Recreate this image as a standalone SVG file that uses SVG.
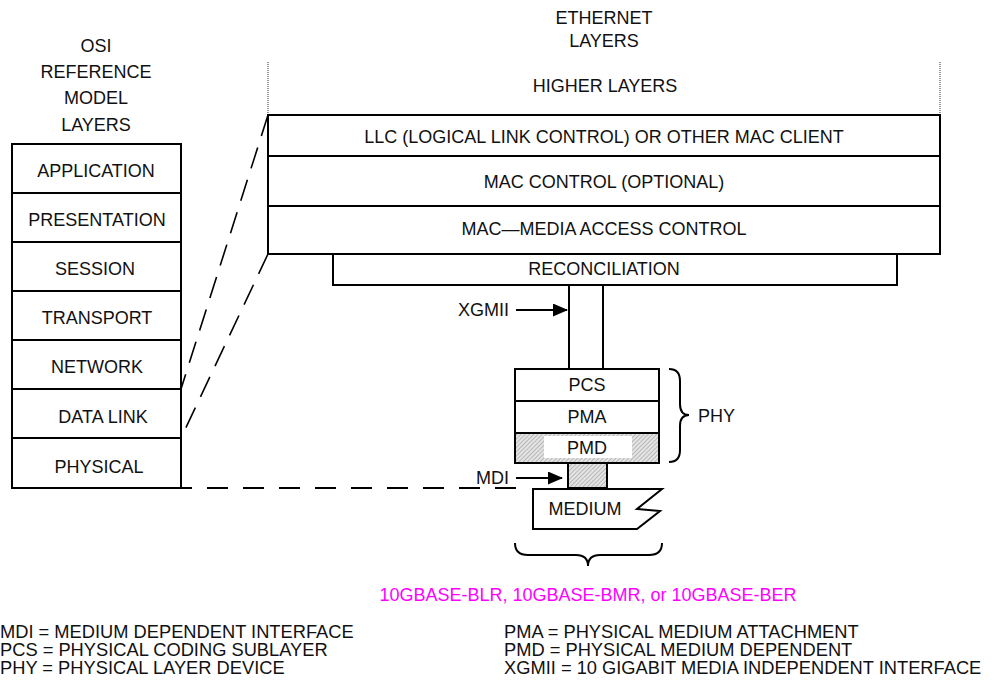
<svg xmlns="http://www.w3.org/2000/svg" width="995" height="683" viewBox="0 0 995 683">
<style>
text{font-family:"Liberation Sans",Arial,sans-serif;font-size:18px;fill:#111;text-anchor:middle}
.leg{font-size:18.3px;text-anchor:start}
.end{text-anchor:end}
.box{fill:#fff;stroke:#000;stroke-width:2}
.ln{fill:none;stroke:#000;stroke-width:2}
.dash{fill:none;stroke:#000;stroke-width:1.6;stroke-dasharray:22 12}
.hdash{fill:none;stroke:#000;stroke-width:2;stroke-dasharray:21 15}
.dot{fill:none;stroke:#777;stroke-width:1.5;stroke-dasharray:1 1}
.hatch{fill:url(#hatch);stroke:#000;stroke-width:2}
</style>
<defs>
<pattern id="hatch" width="3" height="3" patternUnits="userSpaceOnUse" patternTransform="rotate(45)">
<rect width="3" height="3" fill="#e4e4e4"/>
<line x1="0" y1="0" x2="0" y2="3" stroke="#999" stroke-width="1.2"/>
</pattern>
<marker id="arr" markerWidth="15" markerHeight="13" refX="14" refY="6.5" orient="auto" markerUnits="userSpaceOnUse">
<path d="M0,0 L15,6.5 L0,13 Z" fill="#000"/>
</marker>
</defs>

<g id="osi-title">
<text x="96" y="52">OSI</text>
<text x="96" y="78">REFERENCE</text>
<text x="96" y="104">MODEL</text>
<text x="96" y="131">LAYERS</text>
</g>
<g id="osi-application"><rect class="box" x="12" y="144" width="169" height="49"/><text x="96" y="177">APPLICATION</text></g>
<g id="osi-presentation"><rect class="box" x="12" y="193" width="169" height="49"/><text x="97" y="226">PRESENTATION</text></g>
<g id="osi-session"><rect class="box" x="12" y="242" width="169" height="49"/><text x="95" y="275">SESSION</text></g>
<g id="osi-transport"><rect class="box" x="12" y="291" width="169" height="49"/><text x="97" y="324">TRANSPORT</text></g>
<g id="osi-network"><rect class="box" x="12" y="340" width="169" height="49"/><text x="97" y="373">NETWORK</text></g>
<g id="osi-datalink"><rect class="box" x="12" y="389" width="169" height="49"/><text x="103" y="423">DATA LINK</text></g>
<g id="osi-physical"><rect class="box" x="12" y="438" width="169" height="50"/><text x="99" y="473">PHYSICAL</text></g>

<g id="eth-title">
<text x="604" y="24">ETHERNET</text>
<text x="604" y="47">LAYERS</text>
</g>
<g id="higher-layers">
<line class="dot" x1="268" y1="62" x2="268" y2="115"/>
<line class="dot" x1="940" y1="62" x2="940" y2="115"/>
<text x="605" y="92">HIGHER LAYERS</text>
</g>
<g id="llc"><rect class="box" x="268" y="115" width="672" height="41"/><text x="604" y="143">LLC (LOGICAL LINK CONTROL) OR OTHER MAC CLIENT</text></g>
<g id="mac-control"><rect class="box" x="268" y="156" width="672" height="50"/><text x="604" y="188">MAC CONTROL (OPTIONAL)</text></g>
<g id="mac"><rect class="box" x="268" y="206" width="672" height="48"/><text x="604" y="235">MAC—MEDIA ACCESS CONTROL</text></g>
<g id="reconciliation"><rect class="box" x="333" y="254" width="564" height="31"/><text x="604" y="275">RECONCILIATION</text></g>

<g id="xgmii">
<line class="ln" x1="569" y1="285" x2="569" y2="369"/>
<line class="ln" x1="603" y1="285" x2="603" y2="369"/>
<text class="end" x="509" y="316">XGMII</text>
</g>

<g id="pcs"><rect class="box" x="515" y="369" width="144" height="32"/><text x="587" y="391">PCS</text></g>
<g id="pma"><rect class="box" x="515" y="401" width="144" height="32"/><text x="587" y="423">PMA</text></g>
<g id="pmd"><rect class="hatch" x="515" y="433" width="144" height="30"/><rect x="544" y="436" width="88" height="22" fill="#fff"/><text x="587" y="454">PMD</text></g>
<g id="mdi"><rect class="hatch" x="568" y="463" width="39" height="25"/><text class="end" x="509" y="484">MDI</text></g>
<g id="medium"><path class="box" d="M533,489 L662,489 L637,509 L660,511 L637,529 L533,529 Z"/><text x="585" y="515">MEDIUM</text></g>

<g id="phy">
<path class="ln" stroke-width="1.5" d="M669,369 Q680,369 680,381 L680,404 Q680,415 689,415 Q680,415 680,426 L680,450 Q680,462 669,462"/>
<text x="698" y="422" style="text-anchor:start">PHY</text>
</g>

<g id="variants">
<path class="ln" stroke-width="1.5" d="M515,543 Q515,555 528,555 L576,555 Q588,555 588,566 Q588,555 600,555 L649,555 Q662,555 662,543"/>
<text x="588" y="601" style="fill:#f0f">10GBASE-BLR, 10GBASE-BMR, or 10GBASE-BER</text>
</g>

<g id="connectors">
<line class="dash" x1="268" y1="115" x2="181" y2="389"/>
<line class="dash" x1="268" y1="254" x2="181" y2="438"/>
<line class="hdash" x1="171" y1="488" x2="521" y2="488"/>
<line class="ln" x1="516" y1="310" x2="567" y2="310" marker-end="url(#arr)"/>
<line class="ln" x1="516" y1="478" x2="562" y2="478" marker-end="url(#arr)"/>
</g>

<g id="legend">
<text class="leg" x="0" y="638">MDI = MEDIUM DEPENDENT INTERFACE</text>
<text class="leg" x="0" y="656">PCS = PHYSICAL CODING SUBLAYER</text>
<text class="leg" x="0" y="674">PHY = PHYSICAL LAYER DEVICE</text>
<text class="leg" x="504" y="638">PMA = PHYSICAL MEDIUM ATTACHMENT</text>
<text class="leg" x="504" y="656">PMD = PHYSICAL MEDIUM DEPENDENT</text>
<text class="leg" x="504" y="674">XGMII = 10 GIGABIT MEDIA INDEPENDENT INTERFACE</text>
</g>
</svg>
